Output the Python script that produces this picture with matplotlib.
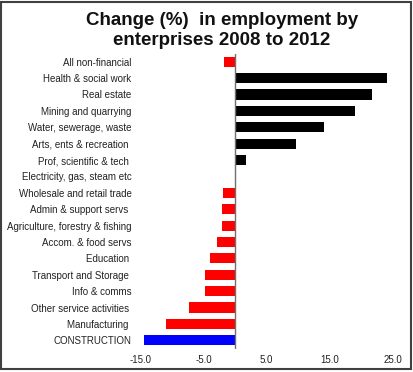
import matplotlib
matplotlib.use("Agg")
import matplotlib.pyplot as plt
from matplotlib.patches import Rectangle

categories = [
    "All non-financial",
    "Health & social work",
    "Real estate",
    "Mining and quarrying",
    "Water, sewerage, waste",
    "Arts, ents & recreation ",
    "Prof, scientific & tech ",
    "Electricity, gas, steam etc",
    "Wholesale and retail trade",
    "Admin & support servs ",
    "Agriculture, forestry & fishing",
    "Accom. & food servs",
    "Education ",
    "Transport and Storage ",
    "Info & comms",
    "Other service activities ",
    "Manufacturing ",
    "CONSTRUCTION",
]
values = [-1.75, 24.2, 21.7, 19.1, 14.1, 9.7, 1.7, 0.0, -1.9, -2.0, -2.1,
          -2.9, -4.0, -4.8, -4.8, -7.3, -10.9, -14.5]
xticks = [-15, -5, 5, 15, 25]
xticklabels = ["-15.0", "-5.0", "5.0", "15.0", "25.0"]
title_lines = ["Change (%)  in employment by", "enterprises 2008 to 2012"]

plt.rcParams['font.family'] = ['Liberation Sans', 'DejaVu Sans']

fig = plt.figure(figsize=(4.14, 3.72), dpi=100)
ax = fig.add_axes([140.5 / 414, 1 - 348.5 / 372, 252 / 414, 295 / 372])

colors = []
for c, v in zip(categories, values):
    if c == "CONSTRUCTION":
        colors.append("#0000ff")
    elif v < 0:
        colors.append("#ff0000")
    else:
        colors.append("#000000")

pos = list(range(len(categories)))
ax.barh(pos, values, height=0.62, color=colors)
ax.set_ylim(len(categories) - 0.5, -0.5)
ax.set_xlim(-15, 25)
ax.set_yticks(pos)
ax.set_yticklabels(categories, fontsize=7, color="#222222")
ax.set_xticks(xticks)
ax.set_xticklabels(xticklabels, fontsize=7, color="#222222")
ax.tick_params(axis="y", length=0, pad=6.5)
ax.tick_params(axis="x", length=0, pad=5)
for s in ax.spines.values():
    s.set_visible(False)
ax.axvline(0, color="#707070", lw=1)

for line, yc in zip(title_lines, [20.7, 40.7]):
    fig.text(222 / 414, 1 - yc / 372, line, ha="center", va="center",
             fontsize=13.5, fontweight="bold", color="#111111")

fig.patches.append(Rectangle((1 / 414, 1 - 369 / 372), 410 / 414, 367 / 372,
                             transform=fig.transFigure, fill=False,
                             edgecolor="#404040", lw=1.5))

fig.savefig("out.png", dpi=100)
